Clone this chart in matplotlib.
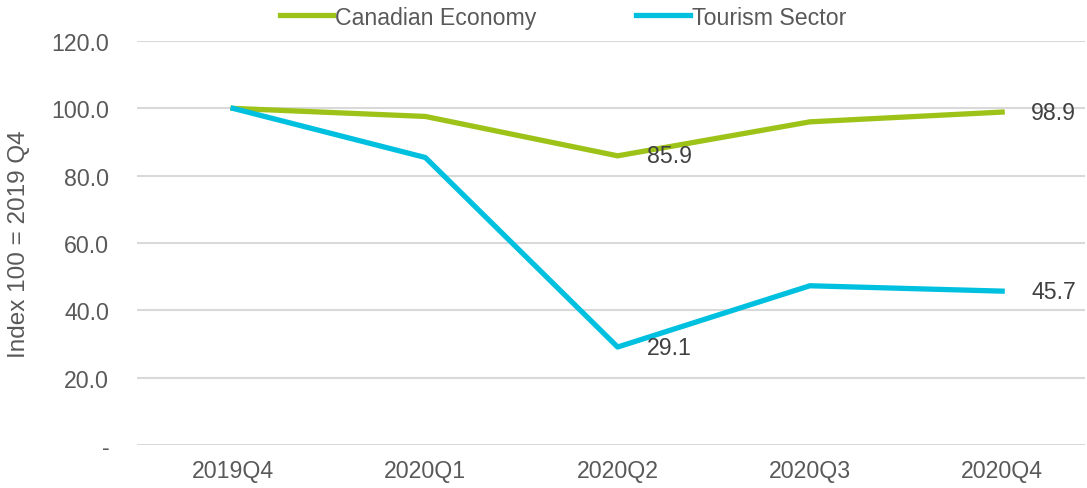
import matplotlib
matplotlib.use('Agg')
import matplotlib.pyplot as plt

quarters = ['2019Q4', '2020Q1', '2020Q2', '2020Q3', '2020Q4']
canadian = [100.0, 97.6, 85.9, 96.0, 98.9]
tourism = [100.0, 85.4, 29.1, 47.3, 45.7]
yticks = [0, 20, 40, 60, 80, 100, 120]
ytick_labels = ['-', '20.0', '40.0', '60.0', '80.0', '100.0', '120.0']
labelled = [2, 4]

plt.rcParams['font.family'] = ['Liberation Sans', 'DejaVu Sans']
grey = '#595959'
green = '#9DC319'
cyan = '#00C0DF'
fs = 16.7

fig = plt.figure(figsize=(10.87, 4.89), dpi=100)
ax = fig.add_axes([0.126, 0.088, 0.872, 0.826])

x = range(len(quarters))
ax.plot(x, canadian, color=green, linewidth=3.8, label='Canadian Economy')
ax.plot(x, tourism, color=cyan, linewidth=3.8, label='Tourism Sector')

for i in labelled:
    for series in (canadian, tourism):
        ax.annotate('%.1f' % series[i], (i, series[i]), xytext=(21, 0),
                    textcoords='offset points', ha='left', va='center',
                    fontsize=fs, color='#404040')

ax.set_xlim(-0.5, 4.43)
ax.set_ylim(0, 120)
ax.set_xticks(list(x))
ax.set_xticklabels(quarters)
ax.set_yticks(yticks)
ax.set_yticklabels(ytick_labels)
ax.tick_params(axis='both', length=0, labelsize=fs, colors=grey)
ax.tick_params(axis='x', pad=10)
ax.tick_params(axis='y', pad=20)
ax.grid(axis='y', color='#D9D9D9', linewidth=1.5)
ax.set_axisbelow(True)
for s in ax.spines.values():
    s.set_visible(False)
ax.set_ylabel('Index 100 = 2019 Q4', fontsize=17.5, color=grey)
ax.yaxis.set_label_coords(-0.113, 0.5)

fig.legend(loc='center', bbox_to_anchor=(0.518, 0.963), ncol=2, frameon=False,
           fontsize=fs, labelcolor=grey, handlelength=2.3, handletextpad=0.08,
           columnspacing=4.3, borderpad=0, borderaxespad=0)

fig.savefig('out.png', dpi=100)
